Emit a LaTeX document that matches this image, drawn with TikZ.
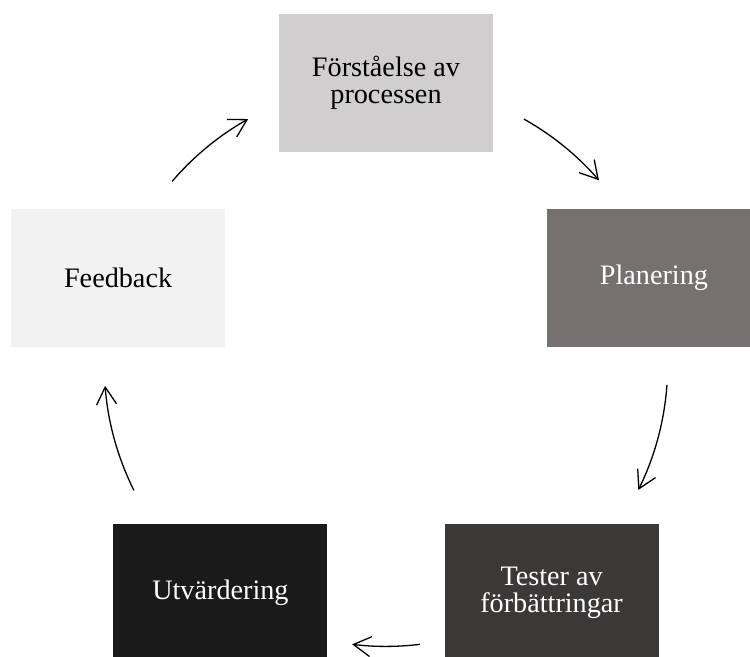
\documentclass[tikz,border=0pt]{standalone}
\usepackage{fontspec}
\setmainfont{Liberation Serif}
\usetikzlibrary{arrows.meta}
\definecolor{grayA}{HTML}{D0CECE}
\definecolor{grayB}{HTML}{767171}
\definecolor{grayC}{HTML}{3B3838}
\definecolor{grayD}{HTML}{1A1A1A}
\definecolor{grayE}{HTML}{F2F2F2}
\begin{document}
\begin{tikzpicture}[x=0.5pt,y=0.5pt,
  stage/.style={rectangle, minimum width=107pt, minimum height=69pt,
    inner sep=0pt, align=center, font=\fontsize{14.1}{13.6}\selectfont},
  cyc/.style={line width=0.65pt,
    -{Straight Barb[length=8.7pt,width=10pt,line width=0.65pt]}}]
  \useasboundingbox (0,0) rectangle (750,657);
  \clip (0,0) rectangle (750,657);
  % centre of the cycle and its radius
  \coordinate (O) at (386,292.3);
  \def\R{281.7}
  % the five stages
  \node[stage, fill=grayA, text=black] (und) at ([shift={(90:\R)}]O) {Förståelse av\\processen};
  \node[stage, fill=grayB, text=white] (plan) at ([shift={(18:\R)}]O) {Planering};
  \node[stage, fill=grayC, text=white] (test) at ([shift={(-54:\R)}]O) {Tester av\\förbättringar};
  \node[stage, fill=grayD, text=white] (utv) at ([shift={(-126:\R)}]O) {Utvärdering};
  \node[stage, fill=grayE, text=black] (feed) at ([shift={(162:\R)}]O) {Feedback};
  % curved arrows running clockwise along the cycle
  \draw[cyc] ([shift={(139.4:\R)}]O) arc[start angle=139.4, end angle=119.3, radius=140.85pt];
  \draw[cyc] ([shift={(60.7:\R)}]O) arc[start angle=60.7, end angle=40.9, radius=140.85pt];
  \draw[cyc] ([shift={(-4.1:\R)}]O) arc[start angle=-4.1, end angle=-26.4, radius=140.85pt];
  \draw[cyc] ([shift={(-83.1:\R)}]O) arc[start angle=-83.1, end angle=-96.9, radius=140.85pt];
  \draw[cyc] ([shift={(-153.5:\R)}]O) arc[start angle=-153.5, end angle=-175.7, radius=140.85pt];
\end{tikzpicture}
\end{document}
